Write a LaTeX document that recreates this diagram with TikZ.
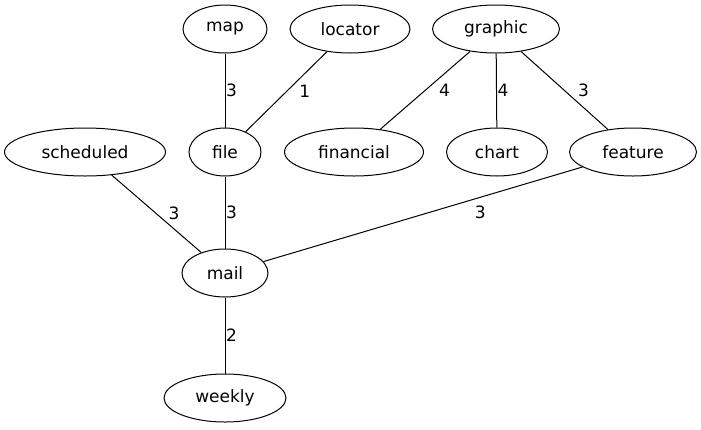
\documentclass[tikz,border=0pt]{standalone}
\usepackage{fontspec}
\setmainfont{DejaVu Sans}
\usetikzlibrary{shapes.geometric}

\tikzset{
  word/.style={draw, ellipse, line width=1pt, minimum height=48pt, inner sep=0pt},
  lbl/.style={inner sep=0.5pt},
  every node/.append style={font=\fontsize{17}{20}\selectfont}
}

\begin{document}
\begin{tikzpicture}[x=1pt, y=-1pt, line width=1pt]
      \useasboundingbox (0,0) rectangle (701,429);
      % top row
      \node[word, minimum width=84pt] (map) at (225,29) {map};
      \node[word, minimum width=120pt] (locator) at (350,29) {locator};
      \node[word, minimum width=127pt] (graphic) at (496,29) {graphic};
      % middle row
      \node[word, minimum width=161pt] (scheduled) at (85,152) {scheduled};
      \node[word, minimum width=72pt] (file) at (225,152) {file};
      \node[word, minimum width=139pt] (financial) at (354,152) {financial};
      \node[word, minimum width=101pt] (chart) at (497,152) {chart};
      \node[word, minimum width=127pt] (feature) at (633,152) {feature};
      % bottom
      \node[word, minimum width=86pt] (mail) at (225,273) {mail};
      \node[word, minimum width=122pt] (weekly) at (225,398) {weekly};

      \draw (map) -- node[lbl, right] {3} (file);
      \draw (locator) -- node[lbl, right=12pt] {1} (file);
      \draw (graphic) -- node[lbl, right=13pt] {4} (financial);
      \draw (graphic) -- node[lbl, right] {4} (chart);
      \draw (graphic) -- node[lbl, right=12.5pt] {3} (feature);
      \draw (scheduled) -- node[lbl, right=11pt] {3} (mail);
      \draw (file) -- node[lbl, right] {3} (mail);
      \draw (feature) -- node[lbl, pos=0.32, below=8pt] {3} (mail);
      \draw (mail) -- node[lbl, right] {2} (weekly);
    \end{tikzpicture}
\end{document}
